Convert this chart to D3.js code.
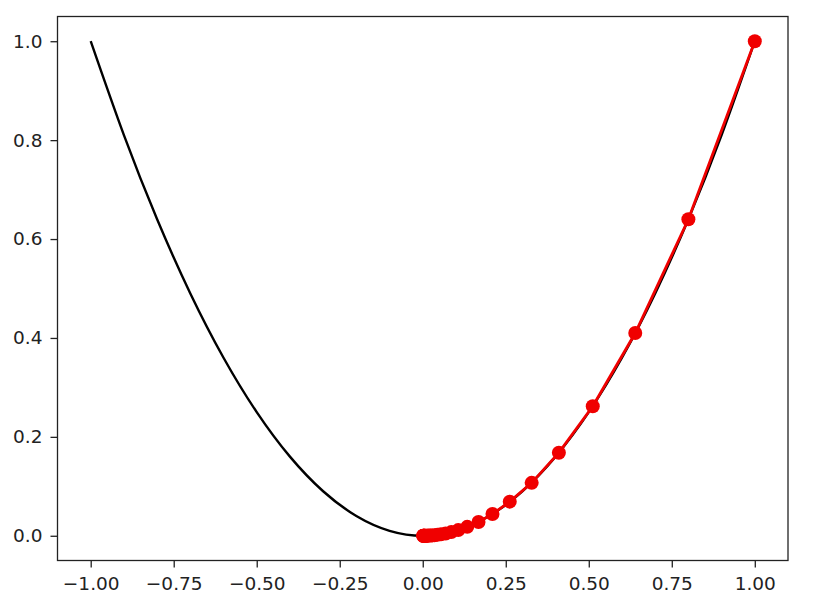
<!DOCTYPE html>
<html>
<head>
<meta charset="utf-8">
<script src="https://cdn.jsdelivr.net/npm/d3@7"></script>
<style>
  body { margin: 0; background: #fff; }
  .tick text { font-family: "DejaVu Sans", sans-serif; font-size: 18.5px; fill: #222; }
</style>
</head>
<body>
<div id="chart"></div>
<script>
// black curve, y = x^2 sampled every 0.1
var curveX = [-1.0, -0.9, -0.8, -0.7, -0.6, -0.5, -0.4, -0.3, -0.2, -0.1, 0.0,
              0.1, 0.2, 0.3, 0.4, 0.5, 0.6, 0.7, 0.8, 0.9, 1.0];
var curveY = [1.0, 0.81, 0.64, 0.49, 0.36, 0.25, 0.16, 0.09, 0.04, 0.01, 0.0,
              0.01, 0.04, 0.09, 0.16, 0.25, 0.36, 0.49, 0.64, 0.81, 1.0];

// red descent steps
var stepX = [1.0, 0.8, 0.64, 0.512, 0.41, 0.328, 0.262, 0.21, 0.168, 0.134,
             0.107, 0.086, 0.069, 0.055, 0.044, 0.035, 0.028, 0.023, 0.018, 0.014,
             0.012, 0.009, 0.007, 0.006, 0.005, 0.004, 0.003, 0.002, 0.002, 0.001];
var stepY = [1.0, 0.64, 0.41, 0.262, 0.168, 0.107, 0.069, 0.044, 0.028, 0.018,
             0.0115, 0.0074, 0.0047, 0.003, 0.0019, 0.0012, 0.0008, 0.0005, 0.0003, 0.0002,
             0.0001, 0.0001, 0.0, 0.0, 0.0, 0.0, 0.0, 0.0, 0.0, 0.0];

var xTicks = [-1.0, -0.75, -0.5, -0.25, 0.0, 0.25, 0.5, 0.75, 1.0];
var yTicks = [0.0, 0.2, 0.4, 0.6, 0.8, 1.0];

var width = 834, height = 612;
var plotLeft = 57.5, plotRight = 788, plotTop = 16.5, plotBottom = 560.5;

var svg = d3.select("#chart").append("svg")
  .attr("width", width)
  .attr("height", height);

var xScale = d3.scaleLinear().domain([-1.1, 1.1]).range([plotLeft, plotRight]);
var yScale = d3.scaleLinear().domain([-0.05, 1.05]).range([plotBottom, plotTop]);

// clip so nothing spills past the frame
svg.append("clipPath").attr("id", "plot")
  .append("rect")
  .attr("x", plotLeft).attr("y", plotTop)
  .attr("width", plotRight - plotLeft).attr("height", plotBottom - plotTop);

var plot = svg.append("g").attr("clip-path", "url(#plot)");

var curvePts = curveX.map(function(x, i) { return [x, curveY[i]]; });
var stepPts = stepX.map(function(x, i) { return [x, stepY[i]]; });

var line = d3.line()
  .x(function(d) { return xScale(d[0]); })
  .y(function(d) { return yScale(d[1]); });

plot.append("path")
  .datum(curvePts)
  .attr("d", line.curve(d3.curveNatural))
  .attr("fill", "none")
  .attr("stroke", "#000")
  .attr("stroke-width", 2.4);

plot.append("path")
  .datum(stepPts)
  .attr("d", line.curve(d3.curveLinear))
  .attr("fill", "none")
  .attr("stroke", "#f00000")
  .attr("stroke-width", 2.8);

plot.selectAll("circle.step")
  .data(stepPts)
  .enter()
  .append("circle")
  .attr("class", "step")
  .attr("cx", function(d) { return xScale(d[0]); })
  .attr("cy", function(d) { return yScale(d[1]); })
  .attr("r", 7)
  .attr("fill", "#f00000");

// axes
var xAxis = d3.axisBottom(xScale).tickValues(xTicks).tickFormat(d3.format(".2f"))
  .tickSizeInner(7).tickSizeOuter(0).tickPadding(9);
var yAxis = d3.axisLeft(yScale).tickValues(yTicks).tickFormat(d3.format(".1f"))
  .tickSizeInner(7).tickSizeOuter(0).tickPadding(8);

svg.append("g")
  .attr("transform", "translate(0," + plotBottom + ")")
  .call(xAxis)
  .call(function(g) { g.select(".domain").remove(); })
  .selectAll("line").attr("stroke", "#222").attr("stroke-width", 1.3);

svg.append("g")
  .attr("transform", "translate(" + plotLeft + ",0)")
  .call(yAxis)
  .call(function(g) { g.select(".domain").remove(); })
  .selectAll("line").attr("stroke", "#222").attr("stroke-width", 1.3);

// frame
svg.append("rect")
  .attr("x", plotLeft).attr("y", plotTop)
  .attr("width", plotRight - plotLeft).attr("height", plotBottom - plotTop)
  .attr("fill", "none")
  .attr("stroke", "#222")
  .attr("stroke-width", 1.3);
</script>
</body>
</html>
